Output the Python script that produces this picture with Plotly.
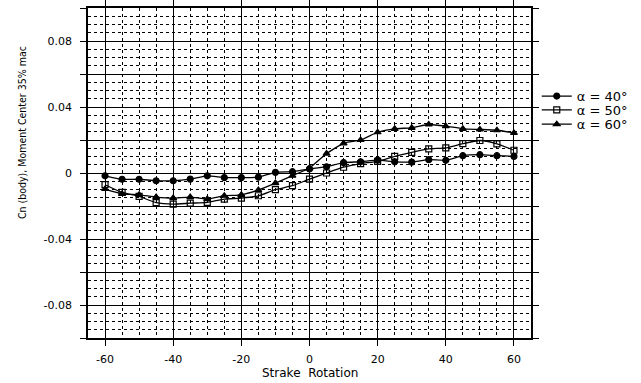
import plotly.graph_objects as go

strake_rotation = [-60, -55, -50, -45, -40, -35, -30, -25, -20, -15, -10, -5, 0,
                   5, 10, 15, 20, 25, 30, 35, 40, 45, 50, 55, 60]
cn_alpha40 = [-0.0017, -0.0038, -0.0038, -0.0047, -0.0047, -0.0037, -0.0017, -0.0028,
              -0.0028, -0.0025, 0.0004, 0.0008, 0.0025, 0.0038, 0.0063, 0.0068, 0.0078,
              0.0068, 0.0066, 0.0081, 0.0077, 0.0105, 0.0111, 0.0105, 0.0101]
cn_alpha50 = [-0.0071, -0.0118, -0.0142, -0.0180, -0.0189, -0.0183, -0.0178, -0.0158,
              -0.0152, -0.0138, -0.0101, -0.0077, -0.0037, 0.0000, 0.0035, 0.0057, 0.0071,
              0.0101, 0.0125, 0.0146, 0.0152, 0.0178, 0.0197, 0.0177, 0.0138]
cn_alpha60 = [-0.0097, -0.0126, -0.0132, -0.0146, -0.0152, -0.0146, -0.0158, -0.0138,
              -0.0132, -0.0103, -0.0061, -0.0016, 0.0030, 0.0118, 0.0180, 0.0200, 0.0247,
              0.0268, 0.0274, 0.0294, 0.0284, 0.0268, 0.0264, 0.0259, 0.0243]

series_names = ["α = 40°", "α = 50°", "α = 60°"]
x_tickvals = [-60, -40, -20, 0, 20, 40, 60]
x_ticktext = ["-60", "-40", "-20", "0", "20", "40", "60"]
y_tickvals = [-0.1, -0.08, -0.06, -0.04, -0.02, 0, 0.02, 0.04, 0.06, 0.08, 0.1]
y_ticktext = ["", "-0.08", "", "-0.04", "", "0", "", "0.04", "", "0.08", ""]

symbols = ["circle", "square-open", "triangle-up"]
legend_ids = ["legend", "legend2", "legend3"]
fig = go.Figure()
for name, ys, sym, lg in zip(series_names, [cn_alpha40, cn_alpha50, cn_alpha60], symbols, legend_ids):
    fig.add_trace(go.Scatter(
        x=strake_rotation, y=ys, name=name, mode="lines+markers", legend=lg,
        line=dict(color="black", width=1.3, shape="spline", smoothing=0.5),
        marker=dict(symbol=sym, size=6, color="black",
                    line=dict(color="black", width=1.2)),
    ))

axis_common = dict(
    showline=True, linecolor="black", linewidth=1.5, mirror="allticks",
    ticks="outside", ticklen=6, tickwidth=1.3, tickcolor="black",
    showgrid=True, gridcolor="black", gridwidth=1.2,
    zeroline=False, automargin=False,
    tickfont=dict(family="DejaVu Sans", size=11, color="black"),
)

fig.update_xaxes(
    range=[-65, 65], tickvals=x_tickvals, ticktext=x_ticktext,
    minor=dict(dtick=5, tick0=0, showgrid=True, gridcolor="black",
               griddash="dot", gridwidth=1, ticks=""),
    ticklabelstandoff=4,
    **axis_common,
)
fig.update_yaxes(
    range=[-0.1, 0.1], tickvals=y_tickvals, ticktext=y_ticktext,
    minor=dict(dtick=0.005, tick0=0, showgrid=True, gridcolor="black",
               griddash="dot", gridwidth=1, ticks=""),
    ticklabelstandoff=6,
    **axis_common,
)

fig.add_annotation(
    text="Strake  Rotation",
    xref="paper", yref="paper", x=0.5, y=-0.106, xanchor="center", yanchor="middle",
    showarrow=False, font=dict(family="DejaVu Sans", size=12, color="black"),
)
fig.add_annotation(
    text="Cn (body), Moment Center 35% mac", textangle=-90,
    xref="paper", yref="paper", x=-0.149, y=0.624, xanchor="center", yanchor="middle",
    showarrow=False,
    font=dict(family="Liberation Sans Narrow, DejaVu Sans Condensed, Arial Narrow, sans-serif",
              size=10.5, color="black"),
)

legend_common = dict(x=1.013, xanchor="left", yanchor="middle",
                     bgcolor="rgba(0,0,0,0)",
                     font=dict(family="DejaVu Sans", size=13, color="black"),
                     itemwidth=30)
fig.update_layout(
    width=641, height=383,
    margin=dict(l=88, r=99, t=8, b=45),
    paper_bgcolor="white", plot_bgcolor="white",
    showlegend=True,
    legend=dict(y=0.733, **legend_common),
    legend2=dict(y=0.691, **legend_common),
    legend3=dict(y=0.648, **legend_common),
)

fig.write_html("out.html")
